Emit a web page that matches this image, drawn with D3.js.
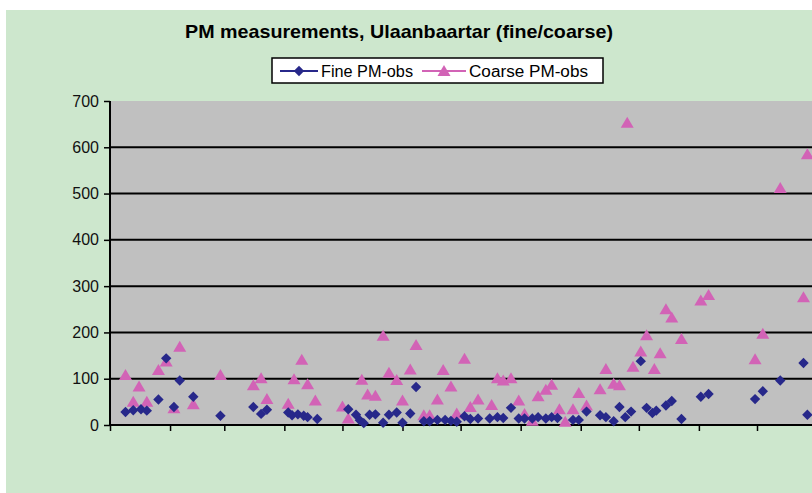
<!DOCTYPE html>
<html>
<head>
<meta charset="utf-8">
<script src="https://cdn.jsdelivr.net/npm/d3@7"></script>
<style>
  html, body { margin: 0; padding: 0; background: #ffffff; }
  svg { display: block; }
  text { font-family: Arial, "Liberation Sans", sans-serif; }
</style>
</head>
<body>
<svg id="chart" width="812" height="493"></svg>
<script>
// Observation days, counted from 1 January of the measurement year
const fineDays = [8, 12, 16, 19, 25, 29, 33, 36, 43, 57, 74, 78, 81, 92, 94, 97, 100, 102, 107,
  123, 127, 129, 131, 134, 137, 141, 144, 148, 151, 155, 158, 162, 165, 169, 173, 176, 179,
  183, 186, 190, 196, 200, 203, 207, 211, 214, 218, 221, 225, 228, 231, 239, 242, 246, 253,
  256, 260, 263, 266, 269, 274, 277, 280, 282, 287, 290, 295, 305, 309, 333, 337, 346, 358, 360];
const fineValues = [28, 32, 34, 31, 55, 144, 39, 96, 61, 20, 39, 24, 33, 27, 21, 23, 20, 17, 13,
  34, 22, 10, 4, 22, 23, 5, 22, 27, 5, 25, 82, 8, 8, 11, 11, 9, 7,
  19, 13, 14, 14, 17, 15, 37, 14, 14, 14, 17, 14, 17, 15, 11, 11, 29, 21,
  17, 8, 39, 17, 29, 138, 37, 26, 31, 42, 52, 13, 61, 67, 56, 73, 96, 134, 22];

const coarseDays = [8, 12, 15, 19, 25, 29, 33, 36, 43, 57, 74, 78, 81, 92, 95, 99, 102, 106,
  120, 123, 130, 133, 137, 141, 144, 148, 151, 155, 158, 162, 165, 169, 172, 176, 179, 183,
  186, 190, 197, 200, 203, 207, 211, 214, 218, 221, 225, 228, 232, 235, 239, 242, 246, 253,
  256, 260, 263, 267, 270, 274, 277, 281, 284, 287, 290, 295, 305, 309, 333, 337, 346, 358, 360];
const coarseValues = [108, 50, 83, 50, 119, 137, 36, 169, 45, 108, 86, 101, 56, 46, 99, 141, 88, 53,
  40, 14, 98, 66, 63, 193, 113, 97, 53, 120, 173, 21, 21, 55, 119, 83, 25, 143,
  39, 55, 43, 101, 96, 101, 53, 24, 9, 62, 76, 87, 34, 7, 34, 69, 42, 77,
  121, 89, 86, 653, 126, 159, 194, 121, 155, 250, 232, 186, 269, 281, 142, 197, 512, 276, 585];

const yTickValues = [0, 100, 200, 300, 400, 500, 600, 700];
const seriesNames = ["Fine PM-obs", "Coarse PM-obs"];
const chartTitle = "PM measurements, Ulaanbaartar (fine/coarse)";

const year = 2005;
const dayToDate = d => d3.timeDay.offset(new Date(year, 0, 1), d);

const colors = { fine: "#27288a", coarse: "#d263b6" };

const svg = d3.select("#chart");
const W = 812, H = 493;

// Chart area background
svg.append("rect").attr("x", 6).attr("y", 10).attr("width", W - 6).attr("height", H - 10)
  .attr("fill", "#cde7cd");

const plot = { left: 110, top: 101, bottom: 425 };

const x = d3.scaleTime()
  .domain([new Date(year, 0, 1), new Date(year + 1, 0, 1)])
  .range([plot.left, plot.left + 365 * (647 / 334)]);
const y = d3.scaleLinear().domain([0, 700]).range([plot.bottom, plot.top]);

// Plot area
svg.append("rect")
  .attr("x", plot.left).attr("y", plot.top)
  .attr("width", x.range()[1] - plot.left).attr("height", plot.bottom - plot.top)
  .attr("fill", "#c0c0c0");

// Horizontal gridlines
svg.append("g").selectAll("line")
  .data(yTickValues.filter(v => v > 0 && v < 700))
  .join("line")
  .attr("x1", plot.left).attr("x2", x.range()[1])
  .attr("y1", d => y(d)).attr("y2", d => y(d))
  .attr("stroke", "#000").attr("stroke-width", 2);

// Y axis
const yAxis = svg.append("g")
  .attr("transform", `translate(${plot.left},0)`)
  .call(d3.axisLeft(y).tickValues(yTickValues).tickSize(6).tickPadding(5));
yAxis.select(".domain").attr("stroke", "#000").attr("stroke-width", 2)
  .attr("d", `M0,${plot.top}V${plot.bottom}`);
yAxis.selectAll(".tick line").attr("stroke", "#000").attr("stroke-width", 1.5);
yAxis.selectAll(".tick text").attr("font-size", 16).attr("fill", "#111")
  .attr("font-family", "Arial, 'Liberation Sans', sans-serif");

// X axis: monthly tick marks without labels
const xAxis = svg.append("g")
  .attr("transform", `translate(0,${plot.bottom})`)
  .call(d3.axisBottom(x).ticks(d3.timeMonth.every(1)).tickFormat("").tickSize(6));
xAxis.select(".domain").attr("stroke", "#000").attr("stroke-width", 2)
  .attr("d", `M${plot.left},0H${x.range()[1]}`);
xAxis.selectAll(".tick line").attr("stroke", "#000").attr("stroke-width", 1.5);

// Markers
const diamond = "M0,-5.2L5.2,0L0,5.2L-5.2,0Z";
const triangle = "M0,-6L6.5,5L-6.5,5Z";

svg.append("g").selectAll("path")
  .data(coarseDays.map((d, i) => ({ date: dayToDate(d), value: coarseValues[i] })))
  .join("path")
  .attr("d", triangle)
  .attr("transform", d => `translate(${x(d.date)},${y(d.value)})`)
  .attr("fill", colors.coarse);

svg.append("g").selectAll("path")
  .data(fineDays.map((d, i) => ({ date: dayToDate(d), value: fineValues[i] })))
  .join("path")
  .attr("d", diamond)
  .attr("transform", d => `translate(${x(d.date)},${y(d.value)})`)
  .attr("fill", colors.fine);

// Title
svg.append("text")
  .attr("x", 399).attr("y", 38)
  .attr("text-anchor", "middle")
  .attr("font-size", 19).attr("font-weight", "bold").attr("fill", "#000")
  .attr("textLength", 428).attr("lengthAdjust", "spacingAndGlyphs")
  .text(chartTitle);

// Legend
const legend = svg.append("g");
legend.append("rect").attr("x", 272).attr("y", 58).attr("width", 331).attr("height", 25)
  .attr("fill", "#ffffff").attr("stroke", "#000").attr("stroke-width", 1.5);

const items = [
  { name: seriesNames[0], color: colors.fine, shape: diamond, x0: 280, x1: 318, tx: 321, tw: 92 },
  { name: seriesNames[1], color: colors.coarse, shape: triangle, x0: 422, x1: 466, tx: 469, tw: 119 }
];
items.forEach(it => {
  legend.append("line").attr("x1", it.x0).attr("x2", it.x1).attr("y1", 71).attr("y2", 71)
    .attr("stroke", it.color).attr("stroke-width", 2);
  legend.append("path").attr("d", it.shape)
    .attr("transform", `translate(${(it.x0 + it.x1) / 2},71)`).attr("fill", it.color);
  legend.append("text").attr("x", it.tx).attr("y", 77)
    .attr("font-size", 16).attr("fill", "#000")
    .attr("textLength", it.tw).attr("lengthAdjust", "spacingAndGlyphs")
    .text(it.name);
});
</script>
</body>
</html>
